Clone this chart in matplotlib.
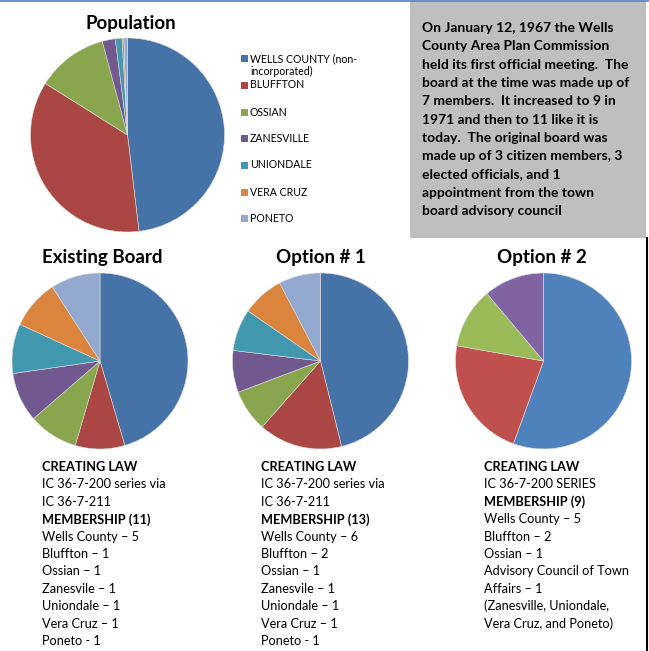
import matplotlib
matplotlib.use('Agg')
import matplotlib.pyplot as plt
from matplotlib.patches import Rectangle

W, H = 649, 651
plt.rcParams['font.family'] = ['Lato', 'DejaVu Sans']

# data
towns = ['WELLS COUNTY (non-\nincorporated)', 'BLUFFTON', 'OSSIAN', 'ZANESVILLE',
         'UNIONDALE', 'VERA CRUZ', 'PONETO']
population = [13294, 9897, 3289, 600, 310, 80, 166]
existing_board = [5, 1, 1, 1, 1, 1, 1]
option1 = [6, 2, 1, 1, 1, 1, 1]
option2 = [5, 2, 1, 1]

colors = ['#4572A7', '#AA4643', '#89A54E', '#71588F', '#4198AF', '#DB843D', '#93A9CF']
colors2 = ['#4F81BD', '#C0504D', '#9BBB59', '#8064A2']

history = ['On January 12, 1967 the Wells',
           'County Area Plan Commission',
           'held its first official meeting.  The',
           'board at the time was made up of',
           '7 members.  It increased to 9 in',
           '1971 and then to 11 like it is',
           'today.  The original board was',
           'made up of 3 citizen members, 3',
           'elected officials, and 1',
           'appointment from the town',
           'board advisory council']

col_existing = [('CREATING LAW', True), ('IC 36-7-200 series via', False), ('IC 36-7-211', False),
                ('MEMBERSHIP (11)', True), ('Wells County \u2013 5', False), ('Bluffton \u2013 1', False),
                ('Ossian \u2013 1', False), ('Zanesvile \u2013 1', False), ('Uniondale \u2013 1', False),
                ('Vera Cruz \u2013 1', False), ('Poneto - 1', False)]
col_opt1 = [('CREATING LAW', True), ('IC 36-7-200 series via', False), ('IC 36-7-211', False),
            ('MEMBERSHIP (13)', True), ('Wells County \u2013 6', False), ('Bluffton \u2013 2', False),
            ('Ossian \u2013 1', False), ('Zanesvile \u2013 1', False), ('Uniondale \u2013 1', False),
            ('Vera Cruz \u2013 1', False), ('Poneto - 1', False)]
col_opt2 = [('CREATING LAW', True), ('IC 36-7-200 SERIES', False), ('MEMBERSHIP (9)', True),
            ('Wells County \u2013 5', False), ('Bluffton \u2013 2', False), ('Ossian \u2013 1', False),
            ('Advisory Council of Town', False), ('Affairs \u2013 1', False),
            ('(Zanesville, Uniondale,', False), ('Vera Cruz, and Poneto)', False)]

fig = plt.figure(figsize=(W / 100, H / 100), dpi=100)

# background layer in pixel coords
bg = fig.add_axes([0, 0, 1, 1])
bg.set_xlim(0, W)
bg.set_ylim(H, 0)
bg.axis('off')
bg.plot([0, W], [0.5, 0.5], color='#4F81BD', lw=1.2)
bg.plot([647, 647], [238, H], color='black', lw=1.5)
bg.add_patch(Rectangle((410, 1), 236, 237, color='#BFBFBF', lw=0))

for i, line in enumerate(history):
    bg.text(422, 28 + i * 18.3, line, fontsize=10.0, fontweight='bold', va='center', ha='left')

# legend
leg_y = [65, 85, 112, 138, 165, 192, 218]
for lab, c, y in zip(towns, colors, leg_y):
    yy = y - 7 if '\n' in lab else y
    bg.add_patch(Rectangle((241, yy - 3.5), 7, 7, color=c, lw=0))
    bg.text(250, y, lab, fontsize=7.6, va='center', ha='left', linespacing=1.25)

for x, col in zip([42, 261, 484], [col_existing, col_opt1, col_opt2]):
    for i, (t, b) in enumerate(col):
        bg.text(x, 467 + i * 17.4, t, fontsize=9.2, va='center', ha='left',
                fontweight='bold' if b else 'normal')


def pie_at(cx, cy, r, vals, cols, title, tx, ty):
    ax = fig.add_axes([(cx - r) / W, 1 - (cy + r) / H, 2 * r / W, 2 * r / H])
    ax.pie(vals, colors=cols, startangle=90, counterclock=False, radius=1,
           wedgeprops=dict(edgecolor='#dddddd', linewidth=0.4))
    ax.set_xlim(-1, 1)
    ax.set_ylim(-1, 1)
    ax.set_aspect('equal')
    bg.text(tx, ty, title, fontsize=13.5, fontweight='bold', ha='center', va='center')
    return ax


pie_at(127.5, 135, 97, population, colors, 'Population', 131, 24)
pie_at(100, 361, 88, existing_board, colors, 'Existing Board', 102, 257)
pie_at(320.5, 361, 88, option1, colors, 'Option # 1', 321, 257)
pie_at(543.5, 361, 88, option2, colors2, 'Option # 2', 542, 257)

fig.savefig('out.png', dpi=100)
